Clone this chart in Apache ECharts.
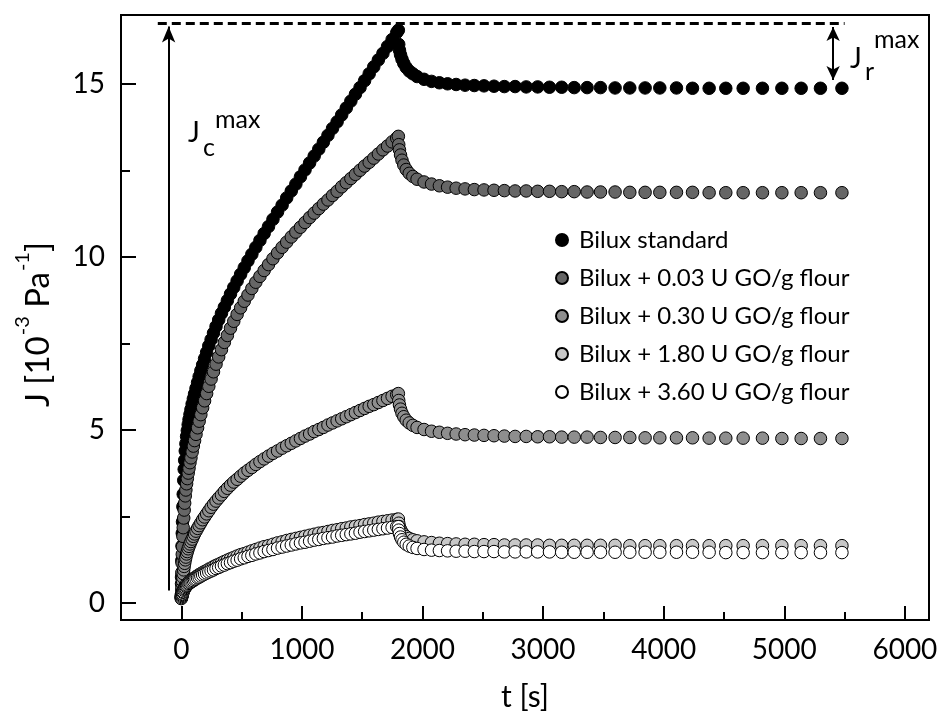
<!DOCTYPE html>
<html><head><meta charset="utf-8">
<script src="https://cdn.jsdelivr.net/npm/echarts@6/dist/echarts.min.js"></script>
<style>html,body{margin:0;padding:0;background:#fff}#c{width:944px;height:722px}</style>
</head><body><div id="c"></div>
<script>
// ---------- data ----------
const seriesNames = ['Bilux standard','Bilux + 0.03 U GO/g flour','Bilux + 0.30 U GO/g flour','Bilux + 1.80 U GO/g flour','Bilux + 3.60 U GO/g flour'];
const seriesColors = ['#000000','#666666','#8e8e8e','#c8c8c8','#ffffff'];

const creepTime = [0,2,4,6,8,10,13,16,20,24,28,33,38,44,50,57,64,72,80,90,100,110,122,135,148,162,177,193,210,228,247,267,288,310,333,357,382,408,435,463,492,522,553,585,618,652,687,723,760,798,836,874,912,950,988,1026,1064,1102,1140,1178,1216,1254,1292,1330,1368,1406,1444,1482,1520,1558,1596,1634,1672,1710,1748,1786,1800];
const recoveryTime = [1803,1809,1818,1830,1845,1865,1890,1920,1955,2013,2075,2140,2208,2279,2353,2430,2510,2593,2679,2768,2860,2955,3053,3154,3258,3365,3476,3597,3719,3846,3968,4106,4239,4377,4515,4659,4819,4980,5140,5300,5478];

const creepStandard = [0.20,0.74,1.22,1.64,2.01,2.34,2.78,3.14,3.54,3.86,4.12,4.39,4.60,4.81,4.98,5.15,5.30,5.45,5.59,5.75,5.90,6.04,6.20,6.37,6.54,6.71,6.88,7.06,7.24,7.43,7.61,7.80,7.99,8.18,8.37,8.55,8.74,8.93,9.12,9.31,9.50,9.69,9.89,10.08,10.28,10.48,10.68,10.88,11.09,11.30,11.50,11.71,11.91,12.11,12.32,12.52,12.72,12.92,13.12,13.32,13.52,13.72,13.91,14.11,14.31,14.51,14.71,14.90,15.10,15.30,15.50,15.70,15.89,16.09,16.29,16.49,16.56];
const recStandard = [16.15,15.98,15.85,15.72,15.60,15.48,15.38,15.30,15.22,15.14,15.08,15.04,15.01,14.99,14.97,14.96,14.95,14.94,14.93,14.93,14.92,14.92,14.91,14.91,14.90,14.90,14.90,14.89,14.89,14.89,14.89,14.89,14.88,14.88,14.88,14.88,14.88,14.88,14.88,14.88,14.88];

const creepGO003 = [0.20,0.55,0.87,1.15,1.40,1.62,1.92,2.17,2.45,2.68,2.88,3.09,3.26,3.44,3.59,3.75,3.89,4.05,4.19,4.36,4.53,4.69,4.87,5.06,5.25,5.44,5.64,5.84,6.05,6.26,6.47,6.68,6.90,7.11,7.32,7.53,7.73,7.94,8.14,8.34,8.53,8.72,8.90,9.09,9.27,9.44,9.61,9.78,9.95,10.12,10.28,10.43,10.58,10.72,10.86,11.00,11.14,11.27,11.40,11.53,11.65,11.78,11.90,12.03,12.15,12.27,12.39,12.51,12.63,12.74,12.86,12.98,13.10,13.21,13.33,13.44,13.49];
const recGO003 = [13.25,13.10,12.95,12.80,12.66,12.53,12.42,12.33,12.25,12.17,12.11,12.06,12.02,11.99,11.97,11.95,11.94,11.93,11.92,11.91,11.91,11.90,11.90,11.89,11.89,11.88,11.88,11.88,11.87,11.87,11.87,11.87,11.87,11.86,11.86,11.86,11.86,11.86,11.86,11.86,11.86];

const creepGO030 = [0.15,0.26,0.37,0.46,0.55,0.63,0.74,0.84,0.95,1.05,1.14,1.24,1.32,1.41,1.48,1.56,1.63,1.70,1.77,1.84,1.92,1.99,2.07,2.15,2.23,2.31,2.40,2.48,2.57,2.66,2.76,2.85,2.94,3.03,3.12,3.22,3.31,3.40,3.49,3.57,3.66,3.75,3.83,3.91,4.00,4.08,4.16,4.24,4.32,4.39,4.47,4.54,4.61,4.68,4.75,4.82,4.88,4.95,5.01,5.07,5.14,5.20,5.26,5.32,5.38,5.44,5.50,5.56,5.62,5.68,5.73,5.79,5.85,5.91,5.97,6.02,6.05];
const recGO030 = [5.85,5.72,5.60,5.48,5.38,5.28,5.20,5.13,5.07,5.01,4.96,4.93,4.90,4.88,4.86,4.85,4.84,4.83,4.82,4.81,4.81,4.80,4.80,4.79,4.79,4.79,4.78,4.78,4.78,4.77,4.77,4.77,4.77,4.76,4.76,4.76,4.76,4.75,4.75,4.75,4.75];

const creepGO180 = [0.13,0.17,0.20,0.23,0.26,0.28,0.32,0.35,0.39,0.42,0.45,0.48,0.50,0.53,0.55,0.58,0.60,0.62,0.65,0.67,0.70,0.72,0.75,0.78,0.81,0.84,0.87,0.90,0.93,0.97,1.00,1.04,1.08,1.11,1.15,1.19,1.23,1.27,1.31,1.35,1.39,1.42,1.46,1.50,1.54,1.58,1.62,1.65,1.69,1.73,1.76,1.80,1.83,1.86,1.89,1.92,1.95,1.98,2.01,2.03,2.06,2.09,2.11,2.14,2.16,2.19,2.21,2.23,2.26,2.28,2.30,2.33,2.35,2.37,2.39,2.41,2.42];
const recGO180 = [2.30,2.20,2.12,2.04,1.97,1.91,1.86,1.82,1.79,1.76,1.74,1.72,1.71,1.70,1.69,1.69,1.68,1.68,1.67,1.67,1.67,1.67,1.66,1.66,1.66,1.66,1.66,1.66,1.65,1.65,1.65,1.65,1.65,1.65,1.65,1.65,1.65,1.65,1.65,1.65,1.65];

const creepGO360 = [0.12,0.15,0.18,0.21,0.24,0.26,0.30,0.32,0.36,0.39,0.41,0.44,0.47,0.49,0.51,0.54,0.56,0.58,0.60,0.62,0.64,0.67,0.69,0.72,0.74,0.77,0.80,0.83,0.86,0.89,0.92,0.95,0.99,1.02,1.06,1.09,1.13,1.16,1.20,1.23,1.27,1.30,1.34,1.37,1.41,1.44,1.48,1.51,1.54,1.58,1.61,1.64,1.67,1.70,1.73,1.75,1.78,1.81,1.83,1.86,1.88,1.90,1.93,1.95,1.97,1.99,2.01,2.04,2.06,2.08,2.10,2.12,2.14,2.16,2.18,2.20,2.20];
const recGO360 = [2.10,2.00,1.90,1.82,1.75,1.69,1.64,1.60,1.57,1.54,1.52,1.51,1.50,1.49,1.49,1.48,1.48,1.48,1.47,1.47,1.47,1.47,1.47,1.46,1.46,1.46,1.46,1.46,1.46,1.46,1.46,1.46,1.46,1.46,1.45,1.45,1.45,1.45,1.45,1.45,1.45];

const xTickValues = [0,1000,2000,3000,4000,5000,6000];
const xMinorValues = [500,1500,2500,3500,4500,5500];
const yTickValues = [0,5,10,15];
const yMinorValues = [2.5,7.5,12.5];

const jMaxLevel = 16.77;       // dashed reference line
const jcArrowT = -105;          // creep arrow position (s)
const jcArrowFrom = 0.35;
const jrArrowT = 5405;          // recovery arrow position (s)
const jrArrowLow = 15.12;
const dashFromT = -195, dashToT = 5500;

// ---------- build ----------
const allTime = creepTime.concat(recoveryTime);
const allValues = [
  creepStandard.concat(recStandard),
  creepGO003.concat(recGO003),
  creepGO030.concat(recGO030),
  creepGO180.concat(recGO180),
  creepGO360.concat(recGO360)
];
const FONT = 'Lato';

const series = seriesNames.map((name, i) => ({
  name,
  type: 'scatter',
  symbol: 'circle',
  symbolSize: 12.5,
  data: allTime.map((t, k) => [t, allValues[i][k]]),
  itemStyle: { color: seriesColors[i], borderColor: '#000', borderWidth: 1, opacity: 1 },
  z: 2 + i,
  emphasis: { disabled: true },
  silent: true
}));

series.push({
  type: 'line', data: [], silent: true, z: 10,
  markLine: {
    silent: true, animation: false,
    label: { show: false },
    emphasis: { disabled: true },
    lineStyle: { color: '#000', width: 2, type: 'solid' },
    data: [
      [
        { coord: [dashFromT, jMaxLevel], symbol: 'none', lineStyle: { color: '#000', width: 3, type: [9, 5] } },
        { coord: [dashToT, jMaxLevel], symbol: 'none' }
      ],
      [
        { coord: [jcArrowT, jcArrowFrom], symbol: 'none', lineStyle: { color: '#000', width: 2, type: 'solid' } },
        { coord: [jcArrowT, jMaxLevel - 0.1], symbol: 'arrow', symbolSize: [10, 16] }
      ],
      [
        { coord: [jrArrowT, jMaxLevel - 0.12], symbol: 'arrow', symbolSize: [10, 14], lineStyle: { color: '#000', width: 2, type: 'solid' } },
        { coord: [jrArrowT, jrArrowLow], symbol: 'arrow', symbolSize: [10, 14] }
      ]
    ]
  }
});

const labelStyle = { color: '#000', fontFamily: FONT, fontSize: 28, formatter: v => String(v) };

const option = {
  animation: false,
  backgroundColor: '#fff',
  grid: { left: 121, right: 15, top: 15, bottom: 102, show: true, borderColor: '#000', borderWidth: 2, backgroundColor: 'transparent' },
  xAxis: [
    {
      type: 'value', min: -500, max: 6200,
      name: 't [s]', nameLocation: 'middle', nameGap: 62,
      nameTextStyle: { color: '#000', fontFamily: FONT, fontSize: 30 },
      axisLine: { show: true, onZero: false, lineStyle: { color: '#000', width: 2 } },
      axisTick: { show: true, inside: true, length: 14, customValues: xTickValues, lineStyle: { color: '#000', width: 2 } },
      axisLabel: Object.assign({ margin: 16, customValues: xTickValues }, labelStyle),
      splitLine: { show: false }
    },
    {
      type: 'value', min: -500, max: 6200, position: 'bottom',
      axisLine: { show: false, onZero: false },
      axisTick: { show: true, inside: true, length: 8, customValues: xMinorValues, lineStyle: { color: '#000', width: 2 } },
      axisLabel: { show: false },
      splitLine: { show: false }
    }
  ],
  yAxis: [
    {
      type: 'value', min: -0.5, max: 17,
      name: '{a|J [10}{s|-3}{a| Pa}{s|-1}{e|]}', nameLocation: 'middle', nameGap: 66, nameRotate: 90,
      nameTextStyle: {
        rich: {
          a: { fontFamily: FONT, fontSize: 33, color: '#000', lineHeight: 42, verticalAlign: 'bottom' },
          e: { fontFamily: FONT, fontSize: 33, color: '#000', lineHeight: 42, verticalAlign: 'bottom', padding: [0, 14, 0, 0] },
          s: { fontFamily: FONT, fontSize: 20, color: '#000', lineHeight: 42, verticalAlign: 'top', padding: [0, 0, 0, 1] }
        }
      },
      axisLine: { show: true, onZero: false, lineStyle: { color: '#000', width: 2 } },
      axisTick: { show: true, inside: true, length: 15, customValues: yTickValues, lineStyle: { color: '#000', width: 2 } },
      axisLabel: Object.assign({ margin: 16, customValues: yTickValues }, labelStyle),
      splitLine: { show: false }
    },
    {
      type: 'value', min: -0.5, max: 17, position: 'left',
      axisLine: { show: false, onZero: false },
      axisTick: { show: true, inside: true, length: 9, customValues: yMinorValues, lineStyle: { color: '#000', width: 2 } },
      axisLabel: { show: false },
      splitLine: { show: false }
    }
  ],
  legend: {
    orient: 'vertical', left: 550, top: 223,
    icon: 'circle', itemWidth: 24, itemHeight: 12, itemGap: 14,
    selectedMode: false,
    textStyle: { fontFamily: FONT, fontSize: 24, color: '#000', lineHeight: 24 },
    data: seriesNames
  },
  graphic: [
    { type: 'text', left: 188, top: 119, style: { text: 'J', fontFamily: FONT, fontSize: 28, fill: '#000' } },
    { type: 'text', left: 203, top: 135, style: { text: 'c', fontFamily: FONT, fontSize: 25, fill: '#000' } },
    { type: 'text', left: 215, top: 107, style: { text: 'max', fontFamily: FONT, fontSize: 25, fill: '#000' } },
    { type: 'text', left: 850, top: 45, style: { text: 'J', fontFamily: FONT, fontSize: 28, fill: '#000' } },
    { type: 'text', left: 865, top: 59, style: { text: 'r', fontFamily: FONT, fontSize: 25, fill: '#000' } },
    { type: 'text', left: 874, top: 27, style: { text: 'max', fontFamily: FONT, fontSize: 25, fill: '#000' } }
  ],
  series
};

const chart = echarts.init(document.getElementById('c'), null, { renderer: 'canvas' });
chart.setOption(option);
</script>
</body></html>
